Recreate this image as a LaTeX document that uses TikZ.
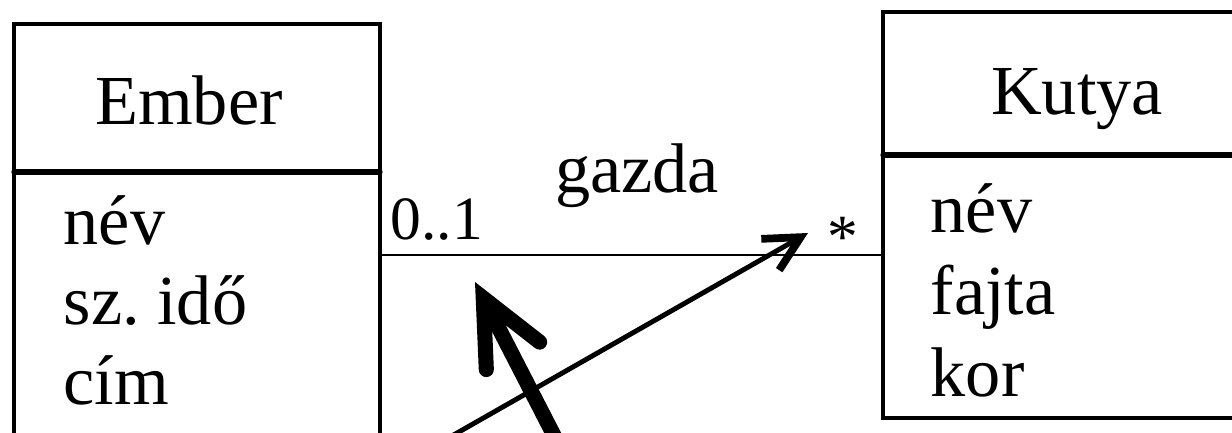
\documentclass[tikz,border=0pt]{standalone}
\usepackage{fontspec}
\setmainfont{Liberation Serif}
\usetikzlibrary{arrows.meta}

\begin{document}
\begin{tikzpicture}[font=\fontsize{20}{24}\selectfont,line cap=round,
  box/.style={line width=1.2pt},
  sep/.style={line width=1.5pt},
  title/.style={inner sep=0pt,anchor=base},
  attr/.style={inner sep=0pt,anchor=base west},
  mult/.style={inner sep=0pt,anchor=base west,font=\fontsize{17.5}{21}\selectfont}]
\useasboundingbox (0,0) rectangle (12.32,4.33);
\clip (0,0) rectangle (12.32,4.33);
% Ember
\draw[box] (0.14,-0.3) -- (0.14,4.09) -- (3.80,4.09) -- (3.80,-0.3);
\draw[sep] (0.14,2.61) -- (3.80,2.61);
\node[title] (ember) at (1.89,3.08) {Ember};
\node[attr] (emberNev) at (0.63,1.88) {név};
\node[attr] (emberIdo) at (0.63,1.08) {sz.\ idő};
\node[attr] (emberCim) at (0.63,0.28) {cím};
% Kutya
\draw[box] (12.6,0.15) -- (8.83,0.15) -- (8.83,4.21) -- (12.6,4.21);
\draw[sep] (8.83,2.78) -- (12.6,2.78);
\node[title] (kutya) at (10.77,3.18) {Kutya};
\node[attr] (kutyaNev) at (9.30,2.00) {név};
\node[attr] (kutyaFajta) at (9.30,1.18) {fajta};
\node[attr] (kutyaKor) at (9.30,0.36) {kor};
% asszociacio
\coordinate (emberR) at (3.80,1.78);
\coordinate (kutyaL) at (8.83,1.78);
\draw[line width=0.6pt] (emberR) -- (kutyaL);
\node[title] (gazda) at (6.37,2.40) {gazda};
\node[mult] (multE) at (3.90,1.93) {0..1};
\node[mult] (multK) at (8.27,1.75) {*};
% nyilak
\coordinate (thinStart) at (4.22,-0.2);
\coordinate (thinTip) at (8.08,2.00);
\coordinate (thickStart) at (5.63,-0.2);
\coordinate (thickTip) at (4.75,1.51);
\draw[line width=1.4pt,-{Straight Barb[length=3.5mm,width=3.6mm,line width=2.2pt]}] (thinStart) -- (thinTip);
\draw[line width=4.3pt,-{Straight Barb[length=6.5mm,width=6mm,line cap=round]}] (thickStart) -- (thickTip);
\end{tikzpicture}
\end{document}
